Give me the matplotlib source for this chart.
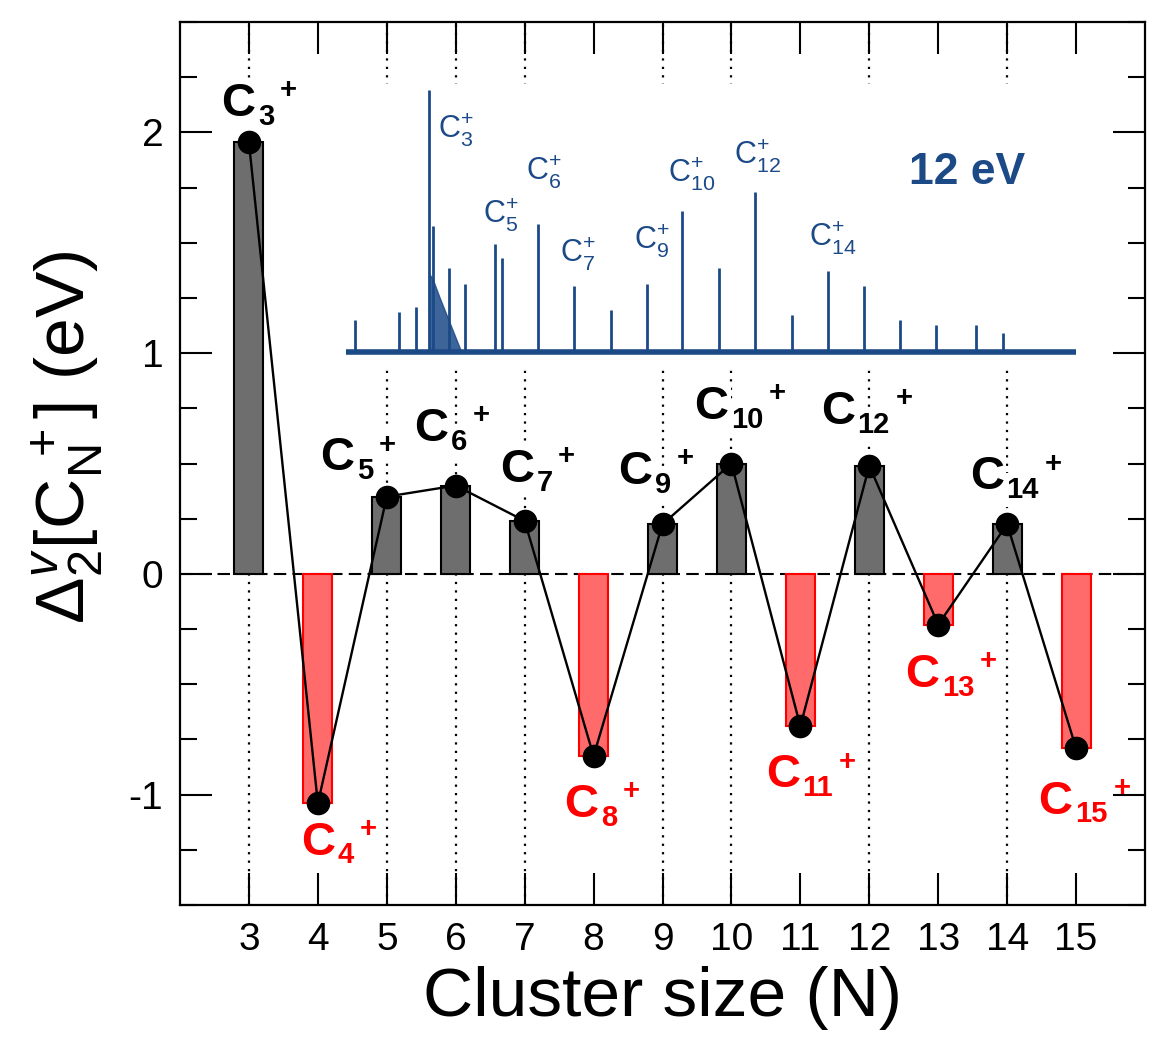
import numpy as np
import matplotlib
matplotlib.use("Agg")
import matplotlib.pyplot as plt
from matplotlib.ticker import MultipleLocator

plt.rcParams['font.family'] = ['Liberation Sans', 'DejaVu Sans']
plt.rcParams['mathtext.fontset'] = 'custom'
plt.rcParams['mathtext.rm'] = 'Liberation Sans'
plt.rcParams['mathtext.bf'] = 'Liberation Sans:bold'
plt.rcParams['mathtext.it'] = 'Liberation Sans:italic'
plt.rcParams['mathtext.sf'] = 'Liberation Sans'
plt.rcParams['axes.unicode_minus'] = False

# second difference of vertical ionisation energies
sizes = [3, 4, 5, 6, 7, 8, 9, 10, 11, 12, 13, 14, 15]
gap = [1.955, -1.04, 0.35, 0.40, 0.24, -0.825, 0.225, 0.50, -0.69, 0.49, -0.23, 0.225, -0.79]

# inset mass spectrum (12 eV), arbitrary flight-time units / normalised intensity
spec_peak_pos = [1.2, 7.3, 9.6, 11.4, 11.9, 14.2, 16.3, 20.4, 21.4, 26.3, 31.2, 36.3,
                 41.2, 46.0, 51.1, 56.0, 61.1, 66.0, 71.0, 75.9, 80.8, 86.4, 90.1]
spec_peak_int = [0.12, 0.15, 0.17, 1.0, 0.48, 0.32, 0.26, 0.41, 0.36, 0.49, 0.25, 0.16,
                 0.26, 0.54, 0.32, 0.61, 0.14, 0.31, 0.25, 0.12, 0.10, 0.10, 0.07]
hump_pos = [11.4, 12.0, 12.8, 13.8, 14.8, 15.8]
hump_int = [0.30, 0.27, 0.21, 0.14, 0.07, 0.0]
spec_labels = [r"C$_{3}^{+}$", r"C$_{5}^{+}$", r"C$_{6}^{+}$", r"C$_{7}^{+}$",
               r"C$_{9}^{+}$", r"C$_{10}^{+}$", r"C$_{12}^{+}$", r"C$_{14}^{+}$"]
spec_label_xy = [(12.6, 0.85), (18.8, 0.525), (24.7, 0.69), (29.3, 0.375),
                 (39.5, 0.425), (44.1, 0.68), (53.2, 0.75), (63.4, 0.437)]

# where each "C_N+" label sits relative to its dot (points)
label_off = {3: (-20, 19), 4: (-12, -37), 5: (-48, 19), 6: (-30, 32), 7: (-18, 28),
             8: (-21, -44), 9: (-32, 29), 10: (-27, 32), 11: (-25, -44), 12: (-35, 30),
             13: (-24, -45), 14: (-27, 25), 15: (-27, -47)}

blue = '#1b4a87'
red = '#ff0000'

fig = plt.figure(figsize=(11.7, 10.61), dpi=100)
ax = fig.add_axes([180/1170, 1-905/1061, 965/1170, 883/1061])

pos = [s for s, g in zip(sizes, gap) if g > 0]
ax.vlines(pos, -1.5, 2.5, colors='black', linestyles=(0, (1, 2.8)), lw=1.6, zorder=1)
ax.axhline(0, color='black', ls=(0, (6, 3)), lw=1.5, zorder=2.5)

for s, g in zip(sizes, gap):
    if g > 0:
        ax.bar(s, g, width=0.42, color='#6e6e6e', edgecolor='black', lw=1.5, zorder=3)
    else:
        ax.bar(s, g, width=0.42, color='#ff6b6b', edgecolor=red, lw=1.5, zorder=3)

ax.plot(sizes, gap, color='black', lw=1.7, marker='o', ms=16, zorder=4)

for s, g in zip(sizes, gap):
    col = 'black' if g > 0 else red
    bb = dict(fc='white', ec='none', pad=2) if g > 0 else None
    c = ax.annotate('C', xy=(s, g), xytext=label_off[s], textcoords='offset points',
                    ha='left', va='baseline', fontsize=34, fontweight='bold',
                    color=col, zorder=2, bbox=bb)
    num = ax.annotate(str(s), xy=(1, 0), xycoords=c, xytext=(2, 1),
                      textcoords='offset points', ha='left', va='baseline',
                      fontsize=21, fontweight='bold', color=col, zorder=2, bbox=bb)
    ax.annotate('+', xy=(1, 1), xycoords=(num, c), xytext=(4, -6),
                textcoords='offset points', ha='left', va='center',
                fontsize=21, fontweight='bold', color=col, zorder=2, bbox=bb)

ax.set_xlim(2, 16)
ax.set_ylim(-1.5, 2.5)
ax.set_xticks(sizes)
ax.yaxis.set_major_locator(MultipleLocator(1))
ax.yaxis.set_minor_locator(MultipleLocator(0.25))
ax.tick_params(axis='both', which='major', direction='in', length=23, width=1.5,
               top=True, right=True, labelsize=28, pad=12)
ax.tick_params(axis='y', which='minor', direction='in', length=12, width=1.5,
               left=True, right=True)
for sp in ax.spines.values():
    sp.set_linewidth(1.6)

ax.set_xlabel("Cluster size (N)", fontsize=50, labelpad=6)
ax.set_ylabel(r"$\Delta_2^{v}[\mathrm{C}_\mathrm{N}^{\ +}]$ (eV)", fontsize=50)
ax.yaxis.set_label_coords(-0.078, 0.53)

# inset spectrum
axin = ax.inset_axes([4.3, 0.93, 10.8, 1.29], transform=ax.transData)
axin.set_xlim(-1, 101)
axin.set_ylim(-0.065, 1.025)
axin.hlines(0, 0, 100, color=blue, lw=4)
axin.fill_between(hump_pos, 0, hump_int, color=blue, lw=1, alpha=0.85)
axin.vlines(spec_peak_pos, 0, spec_peak_int, color=blue, lw=2)
for t, (x, y) in zip(spec_labels, spec_label_xy):
    axin.text(x, y, t, color=blue, fontsize=22, ha='left', va='center')
axin.text(77.1, 0.686, "12 eV", color=blue, fontsize=32, fontweight='bold',
          ha='left', va='center')
axin.axis('off')
axin.add_patch(plt.Rectangle((0, 0), 1, 1, transform=axin.transAxes, fc='white',
                             ec='none', zorder=-1))

fig.savefig("out.png", dpi=100)
